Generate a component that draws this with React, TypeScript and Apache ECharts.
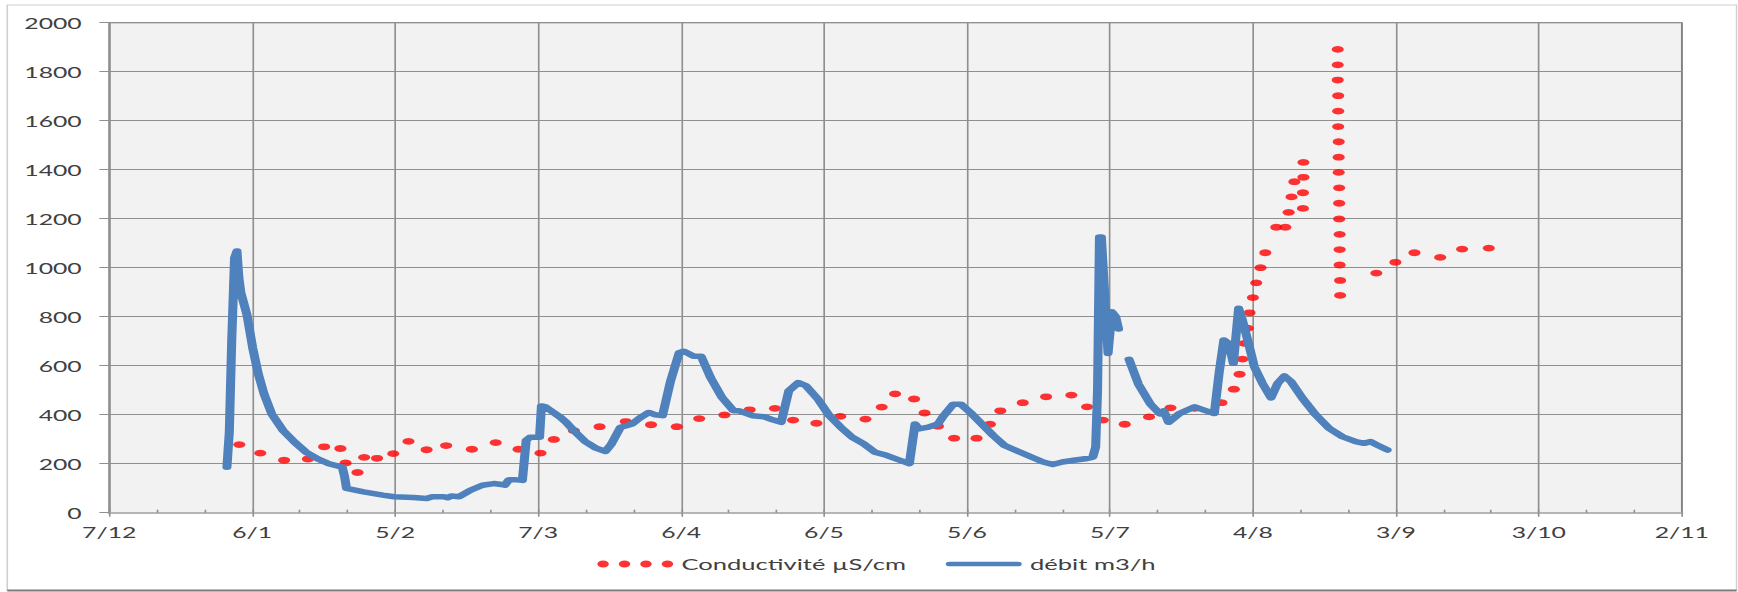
import React, { useEffect, useRef } from 'react';
import * as echarts from 'echarts';

// The chart is laid out on a narrow canvas and widened horizontally,
// which gives the broad lettering and the oval conductivity dots.
const STRETCH = 1.65;
const PAGE_W = 1738;
const PAGE_H = 592;
const BASE_W = PAGE_W / STRETCH;

// x values are days counted from 7/12; one labelled tick every 30 days
const xTickLabels = ['7/12', '6/1', '5/2', '7/3', '6/4', '6/5', '5/6', '5/7', '4/8', '3/9', '3/10', '2/11'];
const X_STEP = 30;
const X_MINOR = 10;
const Y_MAX = 2000;
const Y_STEP = 200;

const conductivityName = 'Conductivité µS/cm';
const flowName = 'débit m3/h';

const conductivityDays = [
  27.3, 31.7, 36.7, 41.7, 45.1, 48.5, 49.6, 52.1, 53.5, 56.2,
  59.6, 62.8, 66.6, 70.7, 76.1, 81.1, 85.9, 90.5, 93.3, 97.5,
  102.9, 108.4, 113.7, 119.1, 123.8, 129.1, 134.4, 139.7, 143.5, 148.4,
  153.4, 158.7, 162.1, 164.9, 168.9, 171.1, 173.9, 177.3, 182.0, 184.8,
  187.0, 191.7, 196.6, 201.9, 205.2, 208.5, 213.1, 218.2, 222.7, 227.8,
  233.4, 236.0, 237.2, 237.8, 238.2, 238.9, 239.3, 240.0, 240.7, 241.6,
  242.6, 244.9, 246.8, 247.5, 248.1, 248.7, 250.6, 250.6, 250.5, 250.5,
  257.8, 257.8, 257.8, 257.9, 257.9, 257.9, 258.0, 258.0, 258.0, 258.1,
  258.1, 258.1, 258.2, 258.2, 258.2, 258.3, 258.3,
  265.9, 269.9, 273.9, 279.3, 283.9, 289.5,
];
const conductivityValues = [
  278, 243, 214, 219, 269, 262, 203, 164, 226, 222,
  241, 291, 257, 274, 259, 286, 259, 243, 299, 335,
  351, 372, 359, 351, 384, 399, 420, 426, 378, 365,
  393, 382, 431, 485, 464, 407, 353, 304, 304, 361,
  416, 449, 473, 480, 432, 378, 361, 391, 428, 426,
  449, 504, 565, 627, 691, 753, 816, 878, 938, 1000,
  1061, 1165, 1165, 1226, 1289, 1351, 1430, 1369, 1306, 1242,
  1891, 1828, 1766, 1702, 1639, 1576, 1514, 1451, 1389, 1326,
  1263, 1199, 1136, 1074, 1011, 948, 887,
  978, 1022, 1061, 1042, 1076, 1080,
];

// null marks the break in the flow record
const flowDays = [
  24.7, 25.2, 25.7, 26.3, 26.8, 27.2, 27.6, 28.9, 30.1, 31.3,
  32.5, 34.1, 36.5, 38.9, 41.3, 43.7, 46.1, 48.9, 49.4, 49.8,
  53.4, 57.4, 59.8, 63.8, 66.6, 67.8, 70.2, 71.0, 71.8, 73.4,
  75.8, 78.3, 80.7, 82.3, 83.0, 83.9, 85.0, 86.7, 87.5, 88.3,
  90.3, 90.7, 91.5, 92.7, 94.7, 95.9, 97.5, 99.9, 102.0, 104.1,
  105.3, 107.3, 108.5, 109.7, 111.3, 113.2, 114.5, 116.1, 117.8, 119.6,
  120.6, 122.6, 124.2, 126.2, 128.6, 131.0, 132.2, 135.0, 137.4, 139.4,
  141.0, 142.6, 144.6, 146.2, 148.7, 151.1, 153.5, 155.9, 158.3, 160.7,
  163.1, 165.9, 167.9, 169.1, 169.9, 171.9, 173.9, 175.1, 177.1, 178.7,
  180.7, 183.1, 185.5, 187.9, 190.3, 193.5, 196.0, 198.0, 200.0, 202.4,
  204.8, 206.4, 207.0, 207.4, 207.8, 208.2, 209.6, 210.4, 211.2, 211.8,
  213.0, 214.0, 216.0, 218.5, 220.5, 221.3, 222.3, 224.6, 227.8, 230.2,
  231.9, 232.9, 233.9, 234.9, 235.9, 237.0, 237.8, 238.9, 240.3, 242.0,
  243.8, 245.2, 246.6, 248.0, 250.4, 253.2, 256.0, 258.8, 261.6, 263.3,
  264.7, 266.1, 268.2,
];
const flowValues = [
  186, 330, 700, 1040, 1068, 960, 900, 808, 673, 565,
  484, 403, 335, 288, 247, 220, 200, 186, 146, 99,
  85, 72, 65, 62, 58, 65, 65, 61, 68, 65,
  92, 112, 119, 115, 112, 135, 135, 132, 295, 308,
  308, 436, 432, 416, 389, 369, 335, 290, 265, 250,
  278, 349, 355, 362, 386, 409, 400, 396, 538, 653,
  659, 639, 639, 551, 470, 416, 416, 396, 392, 378,
  369, 497, 531, 518, 464, 396, 349, 308, 281, 247,
  234, 214, 200, 362, 342, 349, 362, 396, 443, 443,
  409, 362, 315, 274, 254, 227, 207, 197, 207, 214,
  220, 227, 268, 500, 1125, 1125, 650, 820, 800, 750,
  null, 626, 524, 443, 403, 416, 369, 405, 432, 416,
  405, 569, 705, 691, 610, 834, 786, 705, 596, 528,
  469, 528, 558, 535, 467, 399, 344, 310, 290, 283,
  290, 276, 256,
];

const RED = '#FF0000';
const BLUE = '#4F81BD';
const GRID_GRAY = '#8f8f8f';
const TEXT = '#404040';
const FONT = 'Lato';

const RED_ICON =
  'path://M0,3.5A3.5,3.5,0,1,1,7,3.5A3.5,3.5,0,1,1,0,3.5Z' +
  'M13,3.5A3.5,3.5,0,1,1,20,3.5A3.5,3.5,0,1,1,13,3.5Z' +
  'M26,3.5A3.5,3.5,0,1,1,33,3.5A3.5,3.5,0,1,1,26,3.5Z' +
  'M39,3.5A3.5,3.5,0,1,1,46,3.5A3.5,3.5,0,1,1,39,3.5Z';
const BLUE_ICON = 'path://M0,0M46,7M2.3,1.2H43.7A2.3,2.3,0,0,1,43.7,5.8H2.3A2.3,2.3,0,0,1,2.3,1.2Z';

function buildOption() {
  const conductivity = conductivityDays.map((d, i) => [d, conductivityValues[i]]);
  const flow = flowDays.map((d, i) => [d, flowValues[i] === null ? '-' : flowValues[i]]);
  const xMax = X_STEP * (xTickLabels.length - 1);

  return {
    animation: false,
    backgroundColor: '#ffffff',
    textStyle: { fontFamily: FONT },
    grid: {
      left: 66.2,
      right: BASE_W - 1019.6,
      top: 22.7,
      bottom: PAGE_H - 512.7,
      show: true,
      backgroundColor: '#f2f2f2',
      borderColor: '#6a6a6a',
      borderWidth: 1,
    },
    graphic: [
      {
        type: 'rect',
        shape: { x: 4.4, y: 5, width: 1048.1, height: 585.5 },
        style: { fill: 'none', stroke: '#d0d0d0', lineWidth: 1 },
        silent: true,
      },
      {
        type: 'line',
        shape: { x1: 4.4, y1: 590.5, x2: 1052.5, y2: 590.5 },
        style: { stroke: '#7a7a7a', lineWidth: 2 },
        silent: true,
      },
    ],
    legend: {
      left: 362,
      top: 556,
      itemWidth: 46,
      itemHeight: 7,
      itemGap: 24,
      padding: 0,
      textStyle: { fontSize: 15.5, color: TEXT, fontFamily: FONT },
      data: [
        { name: conductivityName, icon: RED_ICON, itemStyle: { color: RED } },
        { name: flowName, icon: BLUE_ICON, itemStyle: { color: BLUE, borderWidth: 0 } },
      ],
    },
    xAxis: [
      {
        type: 'value',
        min: 0,
        max: xMax,
        interval: X_STEP,
        axisLine: { show: true, lineStyle: { color: '#b5b5b5', width: 2 } },
        axisTick: { show: true, length: 4, lineStyle: { color: GRID_GRAY, width: 1 } },
        splitLine: { show: true, lineStyle: { color: GRID_GRAY, width: 1 } },
        axisLabel: {
          color: TEXT,
          fontSize: 15,
          fontFamily: FONT,
          margin: 12,
          formatter: (v: number) => xTickLabels[Math.round(v / X_STEP)] ?? '',
        },
      },
      {
        type: 'value',
        min: 0,
        max: xMax,
        interval: X_MINOR,
        position: 'bottom',
        axisLine: { show: false },
        axisTick: { show: true, inside: true, length: 3, lineStyle: { color: GRID_GRAY, width: 1 } },
        axisLabel: { show: false },
        splitLine: { show: false },
      },
    ],
    yAxis: {
      type: 'value',
      min: 0,
      max: Y_MAX,
      interval: Y_STEP,
      axisLine: { show: true, lineStyle: { color: GRID_GRAY, width: 1 } },
      axisTick: { show: true, length: 6, lineStyle: { color: GRID_GRAY, width: 1 } },
      splitLine: { show: true, lineStyle: { color: GRID_GRAY, width: 1 } },
      axisLabel: {
        color: TEXT,
        fontSize: 15,
        fontFamily: FONT,
        margin: 16.7,
        formatter: (v: number) => String(v),
      },
    },
    series: [
      {
        name: conductivityName,
        type: 'scatter',
        xAxisIndex: 0,
        data: conductivity,
        symbol: 'circle',
        symbolSize: [7.3, 6.8],
        itemStyle: { color: RED },
        z: 2,
      },
      {
        name: flowName,
        type: 'line',
        xAxisIndex: 0,
        data: flow,
        showSymbol: false,
        symbol: 'none',
        connectNulls: false,
        lineStyle: { color: BLUE, width: 5.5, cap: 'round', join: 'round' },
        itemStyle: { color: BLUE },
        z: 3,
      },
    ],
  };
}

export default function App() {
  const ref = useRef<HTMLDivElement>(null);

  useEffect(() => {
    if (!ref.current) return;
    const chart = echarts.init(ref.current, null, { renderer: 'svg' });
    chart.setOption(buildOption() as any);
    return () => chart.dispose();
  }, []);

  return (
    <div
      ref={ref}
      style={{
        position: 'absolute',
        left: 0,
        top: 0,
        width: BASE_W,
        height: PAGE_H,
        transform: `scaleX(${STRETCH})`,
        transformOrigin: '0 0',
      }}
    />
  );
}
